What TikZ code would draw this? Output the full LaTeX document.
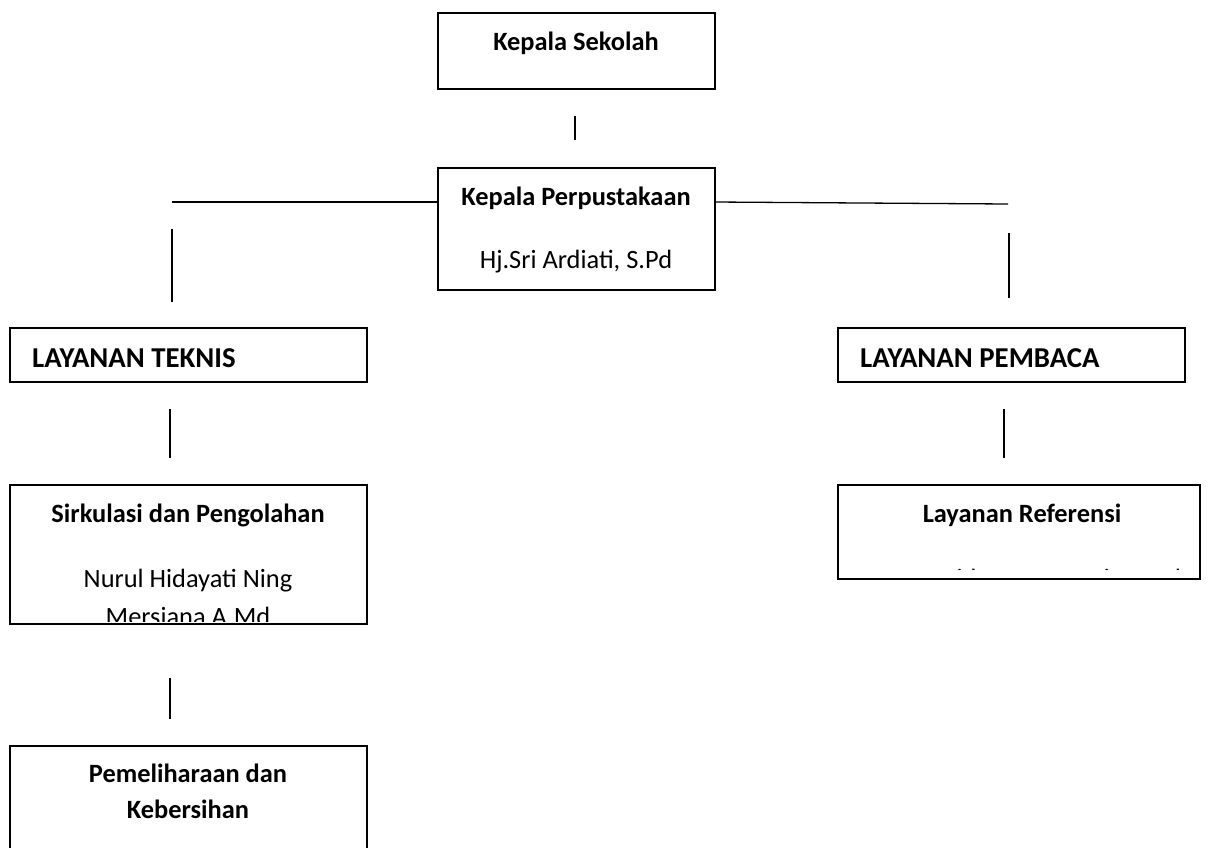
\documentclass[tikz,border=0pt]{standalone}
\usepackage{fontspec}
\setmainfont{Carlito}
\begin{document}
\begin{tikzpicture}[x=1pt,y=-1pt,
  box/.style={draw, line width=1.8pt, rectangle, inner sep=0pt, outer sep=0pt},
  conn/.style={line width=1.3pt},
  t11/.style={font=\fontsize{26.4}{32}\selectfont, inner sep=0pt, anchor=base},
  b11/.style={font=\fontsize{26.4}{32}\selectfont\bfseries, inner sep=0pt, anchor=base},
  b12/.style={font=\fontsize{28.8}{34}\selectfont\bfseries, inner sep=0pt, anchor=base west}]
\useasboundingbox (0,0) rectangle (1210,847);
\clip (0,0) rectangle (1210,847);
\fill[white] (0,0) rectangle (1210,847);

% boxes
\node[box, minimum width=277pt, minimum height=76pt]  (ks) at (576.5,51) {};
\node[box, minimum width=277pt, minimum height=122pt] (kp) at (576.5,229) {};
\node[box, minimum width=357pt, minimum height=54pt]  (lt) at (188.5,355) {};
\node[box, minimum width=347pt, minimum height=54pt]  (lp) at (1011.5,355) {};
\node[box, minimum width=357pt, minimum height=139pt] (sp) at (188.5,554.5) {};
\node[box, minimum width=362pt, minimum height=94pt]  (lr) at (1019,532) {};
\node[box, minimum width=357pt, minimum height=154pt] (pk) at (188.5,823) {};

% texts
\node[b11] (kst) at (576,50) {Kepala Sekolah};
\node[b11] (kpt) at (576,205) {Kepala Perpustakaan};
\node[t11] (kpn) at (576,268) {Hj.Sri Ardiati, S.Pd};
\node[b12] (ltt) at (32,367) {LAYANAN TEKNIS};
\node[b12] (lpt) at (860,367) {LAYANAN PEMBACA};
\node[b11] (spt) at (188,522) {Sirkulasi dan Pengolahan};
\node[t11] (spn) at (188,587) {Nurul Hidayati Ning};
\begin{scope}
  \clip (10,485) rectangle (367,621);
  \node[t11] (spm) at (188,625) {Mersiana A.Md};
\end{scope}
\node[b11] (lrt) at (1022,522) {Layanan Referensi};
\begin{scope}
  \clip (838,485) rectangle (1200,569.5);
  \node[t11] (lrn) at (1021,587) {Nur Rosyida Damayanti, A.Md};
\end{scope}
\node[b11] (pkt1) at (188,782) {Pemeliharaan dan};
\node[b11] (pkt2) at (188,818) {Kebersihan};

% connector end points
\coordinate (v1a) at (575,116);
\coordinate (v1b) at (575,140);
\coordinate (hl) at (172,202);
\coordinate (hr) at (1008,204);
\coordinate (vla) at (172,229);
\coordinate (vlb) at (172,302);
\coordinate (vra) at (1009,233);
\coordinate (vrb) at (1009,298);
\coordinate (vl2a) at (170,409);
\coordinate (vl2b) at (170,458);
\coordinate (vr2a) at (1004,409);
\coordinate (vr2b) at (1004,458);
\coordinate (vl3a) at (170,678);
\coordinate (vl3b) at (170,719);

% connectors
\draw[conn] (v1a) -- (v1b);
\draw[conn] (hl) -- (hl -| kp.west);
\draw[conn] (hl -| kp.east) -- (hr);
\draw[conn] (vla) -- (vlb);
\draw[conn] (vra) -- (vrb);
\draw[conn] (vl2a) -- (vl2b);
\draw[conn] (vr2a) -- (vr2b);
\draw[conn] (vl3a) -- (vl3b);
\end{tikzpicture}
\end{document}
